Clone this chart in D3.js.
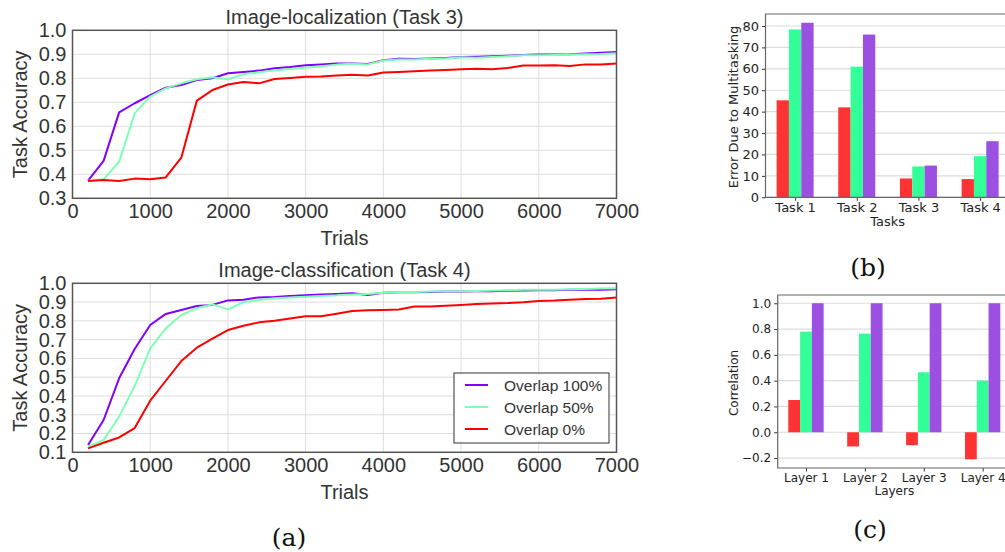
<!DOCTYPE html>
<html>
<head>
<meta charset="utf-8">
<script src="https://cdn.jsdelivr.net/npm/d3@7"></script>
<style>
  body { margin: 0; background: #fff; }
  svg { display: block; }
</style>
</head>
<body>
<div id="chart"></div>
<script>
// trial numbers shared by both line charts
const trials = [200, 400, 600, 800, 1000, 1200, 1400, 1600, 1800, 2000, 2200, 2400, 2600, 2800, 3000,
  3200, 3400, 3600, 3800, 4000, 4200, 4400, 4600, 4800, 5000, 5200, 5400, 5600, 5800, 6000,
  6200, 6400, 6600, 6800, 7000];

// Image-localization (Task 3)
const loc100 = [.374, .456, .658, .696, .73, .761, .772, .793, .80, .821, .826, .832, .842, .847, .854,
  .858, .862, .862, .86, .875, .881, .88, .883, .885, .889, .89, .892, .894, .897, .899,
  .899, .9, .903, .906, .91];
const loc50 = [.373, .379, .453, .654, .724, .758, .779, .796, .804, .796, .817, .825, .833, .839, .844,
  .85, .857, .861, .858, .874, .878, .878, .881, .882, .888, .886, .889, .892, .896, .896,
  .897, .899, .9, .901, .904];
const loc0 = [.372, .376, .372, .382, .379, .387, .469, .707, .751, .774, .785, .779, .797, .801, .806,
  .807, .812, .815, .812, .824, .826, .829, .832, .835, .838, .84, .838, .843, .853, .853,
  .854, .851, .858, .857, .862];

// Image-classification (Task 4)
const cls100 = [.139, .272, .494, .65, .778, .837, .858, .879, .885, .909, .913, .925, .927, .933, .936,
  .94, .943, .947, .938, .95, .952, .952, .954, .956, .956, .958, .958, .96, .961, .963,
  .963, .965, .965, .966, .968];
const cls50 = [.13, .165, .29, .453, .654, .76, .831, .867, .888, .861, .899, .911, .92, .925, .929,
  .933, .936, .941, .943, .95, .954, .954, .956, .958, .958, .959, .961, .963, .965, .966,
  .966, .968, .97, .972, .973];
const cls0 = [.121, .151, .179, .229, .375, .481, .586, .657, .705, .751, .774, .792, .801, .813, .824,
  .824, .838, .853, .856, .858, .861, .876, .877, .881, .885, .89, .893, .895, .899, .906,
  .908, .913, .917, .918, .924];

const xTicks = [0, 1000, 2000, 3000, 4000, 5000, 6000, 7000];
const yTicksLoc = [0.3, 0.4, 0.5, 0.6, 0.7, 0.8, 0.9, 1.0];
const yTicksCls = [0.1, 0.2, 0.3, 0.4, 0.5, 0.6, 0.7, 0.8, 0.9, 1.0];
const legendNames = ['Overlap 100%', 'Overlap 50%', 'Overlap 0%'];

// (b) error due to multitasking
const tasks = ['Task 1', 'Task 2', 'Task 3', 'Task 4'];
const err0 = [45.3, 42.0, 8.8, 8.5];
const err50 = [78.4, 61.0, 14.4, 19.2];
const err100 = [81.5, 76.0, 14.8, 26.2];
const errTicks = [0, 10, 20, 30, 40, 50, 60, 70, 80];

// (c) correlation per layer
const layers = ['Layer 1', 'Layer 2', 'Layer 3', 'Layer 4'];
const corr0 = [0.25, -0.11, -0.10, -0.21];
const corr50 = [0.78, 0.765, 0.465, 0.40];
const corr100 = [1.0, 1.0, 1.0, 1.0];
const corrTicks = [-0.2, 0.0, 0.2, 0.4, 0.6, 0.8, 1.0];

const lineColors = ['#7f00ff', '#80ffb4', '#ff0000'];
const barColors = ['#ff3333', '#33ff99', '#9b50e2'];

const svg = d3.select('#chart').append('svg')
  .attr('width', 1005).attr('height', 552);

const sans = 'Liberation Sans, Arial, sans-serif';
const dejavu = 'DejaVu Sans, sans-serif';

// ---------- line charts ----------
const lineChart = (cfg) => {
  const x = d3.scaleLinear().domain([0, 7000]).range([72.5, 616.5]);
  const y = d3.scaleLinear().domain(cfg.yDomain).range([cfg.bottom, cfg.top]);
  const g = svg.append('g');

  // grid
  g.selectAll('.vg').data(xTicks.slice(1, -1)).enter().append('line')
    .attr('x1', d => x(d)).attr('x2', d => x(d))
    .attr('y1', cfg.top).attr('y2', cfg.bottom)
    .attr('stroke', '#dedede').attr('stroke-width', 1);
  g.selectAll('.hg').data(cfg.yTicks.slice(1, -1)).enter().append('line')
    .attr('x1', x(0)).attr('x2', x(7000))
    .attr('y1', d => y(d)).attr('y2', d => y(d))
    .attr('stroke', '#dedede').attr('stroke-width', 1);

  // axes (no tick marks, seaborn style)
  g.append('g').attr('transform', `translate(0,${cfg.bottom})`)
    .call(d3.axisBottom(x).tickValues(xTicks).tickSize(0).tickPadding(6).tickFormat(d3.format('d')))
    .call(a => a.select('.domain').remove())
    .selectAll('text').attr('font-family', sans).attr('font-size', 20).attr('fill', '#333');
  g.append('g').attr('transform', `translate(${x(0)},0)`)
    .call(d3.axisLeft(y).tickValues(cfg.yTicks).tickSize(0).tickPadding(6).tickFormat(d3.format('.1f')))
    .call(a => a.select('.domain').remove())
    .selectAll('text').attr('font-family', sans).attr('font-size', 20).attr('fill', '#333');

  const line = d3.line().x((d, i) => x(trials[i])).y(d => y(d));
  cfg.series.forEach((s, k) => {
    g.append('path').datum(s)
      .attr('fill', 'none').attr('stroke', lineColors[k])
      .attr('stroke-width', 2).attr('stroke-linejoin', 'round')
      .attr('d', line);
  });

  g.append('rect')
    .attr('x', x(0)).attr('y', cfg.top)
    .attr('width', x(7000) - x(0)).attr('height', cfg.bottom - cfg.top)
    .attr('fill', 'none').attr('stroke', '#555').attr('stroke-width', 1.5);

  g.append('text').text(cfg.title)
    .attr('x', (x(0) + x(7000)) / 2).attr('y', cfg.top - 6)
    .attr('text-anchor', 'middle').attr('font-family', sans).attr('font-size', 20).attr('fill', '#333');
  g.append('text').text('Trials')
    .attr('x', (x(0) + x(7000)) / 2).attr('y', cfg.bottom + 47)
    .attr('text-anchor', 'middle').attr('font-family', sans).attr('font-size', 20).attr('fill', '#333');
  g.append('text').text('Task Accuracy')
    .attr('transform', `translate(27,${(cfg.top + cfg.bottom) / 2}) rotate(-90)`)
    .attr('text-anchor', 'middle').attr('font-family', sans).attr('font-size', 20).attr('fill', '#333');

  return { g, x, y };
};

lineChart({
  title: 'Image-localization (Task 3)', top: 30.3, bottom: 198.3,
  yDomain: [0.3, 1.0], yTicks: yTicksLoc, series: [loc100, loc50, loc0]
});
const bottomChart = lineChart({
  title: 'Image-classification (Task 4)', top: 283.3, bottom: 452.3,
  yDomain: [0.1, 1.0], yTicks: yTicksCls, series: [cls100, cls50, cls0]
});

// legend
const lg = bottomChart.g.append('g').attr('transform', 'translate(454,373)');
lg.append('rect').attr('width', 155).attr('height', 70)
  .attr('fill', '#fff').attr('stroke', '#333').attr('stroke-width', 1);
legendNames.forEach((name, k) => {
  const yy = 12 + k * 22;
  lg.append('line').attr('x1', 11).attr('x2', 34).attr('y1', yy).attr('y2', yy)
    .attr('stroke', lineColors[k]).attr('stroke-width', 2);
  lg.append('text').text(name).attr('x', 50).attr('y', yy + 5.5)
    .attr('font-family', sans).attr('font-size', 15.5).attr('fill', '#333');
});

// ---------- bar charts ----------
const barChart = (cfg) => {
  const x = d3.scaleLinear().domain([-0.48, 3.48]).range([cfg.left, cfg.left + 3.96 * cfg.unit]);
  const y = d3.scaleLinear().domain(cfg.yDomain).range([cfg.bottom, cfg.top]);
  const g = svg.append('g');
  const fs = cfg.fontSize;

  g.selectAll('.hg').data(cfg.yTicks).enter().append('line')
    .attr('x1', cfg.left).attr('x2', 1005)
    .attr('y1', d => y(d)).attr('y2', d => y(d))
    .attr('stroke', '#dcdcdc').attr('stroke-width', 1.2);

  cfg.series.forEach((s, k) => {
    g.selectAll('.b' + k).data(s).enter().append('rect')
      .attr('x', (d, i) => x(i + (k - 1) * 0.2 - 0.1))
      .attr('width', x(0.2) - x(0))
      .attr('y', d => Math.min(y(d), y(0)))
      .attr('height', d => Math.abs(y(d) - y(0)))
      .attr('fill', barColors[k]);
  });

  g.append('g').attr('transform', `translate(0,${cfg.bottom})`)
    .call(d3.axisBottom(x).tickValues(d3.range(cfg.cats.length)).tickSize(3.5).tickPadding(2)
      .tickFormat(i => cfg.cats[i]))
    .call(a => a.select('.domain').remove())
    .call(a => a.selectAll('line').attr('stroke', '#333'))
    .selectAll('text').attr('font-family', dejavu).attr('font-size', fs).attr('fill', '#222');
  g.append('g').attr('transform', `translate(${cfg.left},0)`)
    .call(d3.axisLeft(y).tickValues(cfg.yTicks).tickSize(3.5).tickPadding(3).tickFormat(cfg.fmt))
    .call(a => a.select('.domain').remove())
    .call(a => a.selectAll('line').attr('stroke', '#333'))
    .selectAll('text').attr('font-family', dejavu).attr('font-size', fs).attr('fill', '#222');

  // frame (right side falls off the page)
  g.append('path')
    .attr('d', `M1006,${cfg.top}H${cfg.left}V${cfg.bottom}H1006`)
    .attr('fill', 'none').attr('stroke', '#666').attr('stroke-width', 1.2);

  g.append('text').text(cfg.xLabel)
    .attr('x', x(1.5)).attr('y', cfg.bottom + cfg.xLabelOffset)
    .attr('text-anchor', 'middle').attr('font-family', dejavu).attr('font-size', fs).attr('fill', '#222');
  g.append('text').text(cfg.yLabel)
    .attr('transform', `translate(738,${cfg.yLabelY}) rotate(-90)`)
    .attr('text-anchor', 'middle').attr('font-family', dejavu).attr('font-size', fs).attr('fill', '#222');
};

barChart({
  left: 765.5, unit: 61.67, top: 14, bottom: 197.3, yDomain: [0, 85.6],
  yTicks: errTicks, fmt: d3.format('d'), cats: tasks, series: [err0, err50, err100],
  fontSize: 13, xLabel: 'Tasks', xLabelOffset: 29, yLabel: 'Error Due to Multitasking', yLabelY: 107
});
barChart({
  left: 777.7, unit: 58.9, top: 295, bottom: 468, yDomain: [-0.277, 1.064],
  yTicks: corrTicks, fmt: d => d3.format('.1f')(d).replace('-', '\u2212'), cats: layers,
  series: [corr0, corr50, corr100],
  fontSize: 12, xLabel: 'Layers', xLabelOffset: 27, yLabel: 'Correlation', yLabelY: 383
});

// panel captions
const captions = [['(a)', 289, 546], ['(b)', 868, 276], ['(c)', 870, 538]];
svg.selectAll('.cap').data(captions).enter().append('text')
  .text(d => d[0]).attr('x', d => d[1]).attr('y', d => d[2])
  .attr('text-anchor', 'middle').attr('font-family', 'DejaVu Serif, serif')
  .attr('font-size', 25).attr('fill', '#111');
</script>
</body>
</html>
